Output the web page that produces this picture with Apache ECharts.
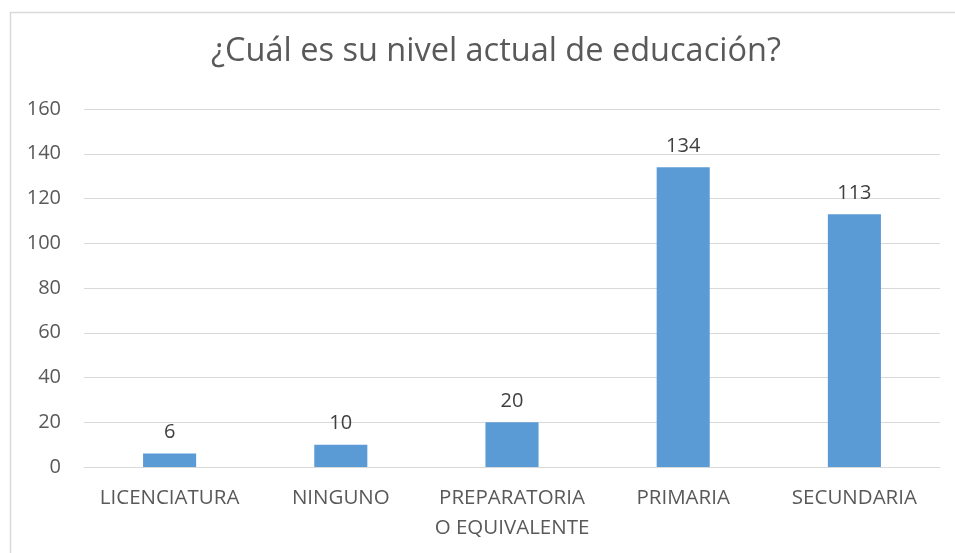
<!DOCTYPE html>
<html><head><meta charset="utf-8">
<script src="https://cdn.jsdelivr.net/npm/echarts@6/dist/echarts.min.js"></script>
<style>html,body{margin:0;padding:0;background:#fff}#c{width:955px;height:553px}</style>
</head><body><div id="c"></div>
<script>
const titleText = '¿Cuál es su nivel actual de educación?';
const categories = ['LICENCIATURA', 'NINGUNO', 'PREPARATORIA\nO EQUIVALENTE', 'PRIMARIA', 'SECUNDARIA'];
const values = [6, 10, 20, 134, 113];
const yMin = 0, yMax = 160, yStep = 20;

const chart = echarts.init(document.getElementById('c'), null, {renderer: 'canvas'});
const FONT = '"Open Sans", sans-serif';
chart.setOption({
  animation: false,
  graphic: [{
    type: 'rect', left: 8, top: 10,
    shape: {width: 960, height: 560},
    style: {fill: 'none', stroke: '#D9D9D9', lineWidth: 1.5}
  }],
  title: {
    text: titleText, left: 491, top: 30, textAlign: 'center',
    textStyle: {fontFamily: FONT, fontSize: 32.5, fontWeight: 'normal', color: '#595959'}
  },
  grid: {left: 84, right: 15, top: 109, bottom: 86, containLabel: false},
  xAxis: {
    type: 'category', data: categories,
    axisLine: {show: true, lineStyle: {color: '#D9D9D9', width: 1}},
    axisTick: {show: false},
    axisLabel: {fontFamily: FONT, fontSize: 20.5, color: '#595959', margin: 16, lineHeight: 30, interval: 0}
  },
  yAxis: {
    type: 'value', min: yMin, max: yMax, interval: yStep,
    axisLine: {show: false}, axisTick: {show: false},
    splitLine: {lineStyle: {color: '#D9D9D9', width: 1}},
    axisLabel: {fontFamily: FONT, fontSize: 20, color: '#595959', margin: 23}
  },
  series: [{
    type: 'bar', data: values, barWidth: '31%',
    itemStyle: {color: '#5B9BD5'},
    label: {show: true, position: 'top', distance: 11, fontFamily: FONT, fontSize: 20, color: '#404040'}
  }]
});
</script></body></html>
